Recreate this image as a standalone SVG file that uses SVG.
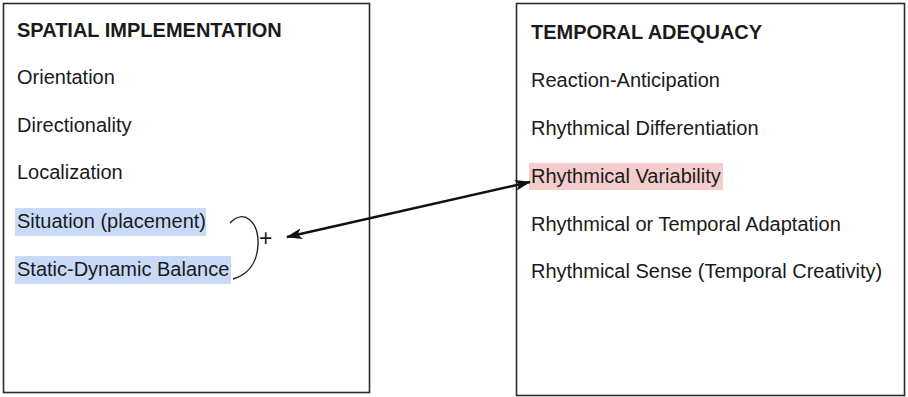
<svg xmlns="http://www.w3.org/2000/svg" width="908" height="397" viewBox="0 0 908 397">
<defs>
<style>
.box{fill:#fff;stroke:#2a2a2a;stroke-width:1.6}
.t{font-family:"Liberation Sans",Arial,sans-serif;font-size:20px;fill:#1a1a1a}
.h{font-weight:bold}
.hlb{fill:#c9daf8}
.hlr{fill:#f4cccc}
.con{fill:none;stroke:#111;stroke-width:2.6}
.br{fill:none;stroke:#222;stroke-width:1.4}
</style>
<marker id="ah" viewBox="0 0 16 11" refX="15" refY="5.5" markerWidth="16" markerHeight="11" markerUnits="userSpaceOnUse" orient="auto-start-reverse">
<path d="M0,0 L16,5.5 L0,11 L4,5.5 Z" fill="#111"/>
</marker>
</defs>
<g id="spatial">
<rect class="box" x="3.5" y="3.5" width="366" height="389"/>
<rect class="hlb" x="15" y="208" width="191" height="28"/>
<rect class="hlb" x="15" y="256" width="216" height="28"/>
<text class="t h" x="17" y="37">SPATIAL IMPLEMENTATION</text>
<text class="t" x="17" y="84">Orientation</text>
<text class="t" x="17" y="132">Directionality</text>
<text class="t" x="17" y="179">Localization</text>
<text class="t" x="17" y="228">Situation (placement)</text>
<text class="t" x="17" y="276">Static-Dynamic Balance</text>
<path class="br" d="M230,223 C244,208 259,222 258,245 C257,264 247,275 233,279"/>
<text class="t" x="259" y="246" style="font-size:23px">+</text>
</g>
<g id="temporal">
<rect class="box" x="516.5" y="3.5" width="388" height="392"/>
<rect class="hlr" x="529" y="163" width="194" height="27"/>
<text class="t h" x="531" y="39">TEMPORAL ADEQUACY</text>
<text class="t" x="531" y="87">Reaction-Anticipation</text>
<text class="t" x="531" y="135">Rhythmical Differentiation</text>
<text class="t" x="531" y="183">Rhythmical Variability</text>
<text class="t" x="531" y="231">Rhythmical or Temporal Adaptation</text>
<text class="t" x="531" y="278">Rhythmical Sense (Temporal Creativity)</text>
</g>
<g id="connectors">
<line class="con" x1="287" y1="237" x2="530" y2="182" marker-start="url(#ah)" marker-end="url(#ah)"/>
</g>
</svg>
